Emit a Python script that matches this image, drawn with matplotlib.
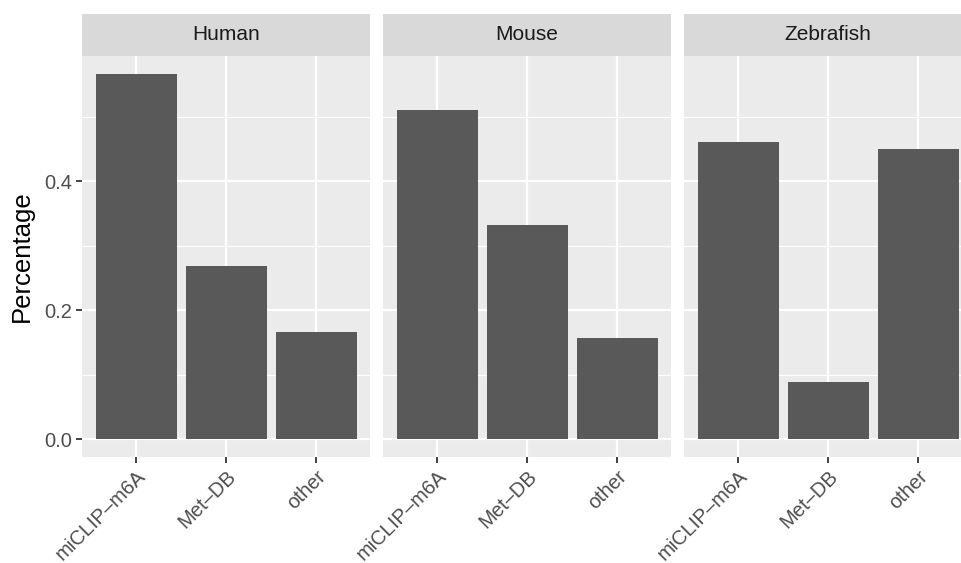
import matplotlib
matplotlib.use("Agg")
import matplotlib.pyplot as plt

plt.rcParams['font.family'] = ['Liberation Sans', 'DejaVu Sans']

# share of sites per source, one facet per species
species = ["Human", "Mouse", "Zebrafish"]
sources = ["miCLIP\u2013m6A", "Met\u2013DB", "other"]
human = [0.5666, 0.2678, 0.1656]
mouse = [0.5108, 0.3328, 0.1564]
zebrafish = [0.4613, 0.0882, 0.4505]
values = [human, mouse, zebrafish]

BAR = "#595959"
PANEL = "#EBEBEB"
STRIP = "#D9D9D9"

fig = plt.figure(figsize=(9.61, 5.63), dpi=100)

# facet geometry (figure fractions)
lefts = [82 / 961, 383 / 961, 684 / 961]
width = 288 / 961
bottom = (563 - 457.3) / 563
height = 401.6 / 563
strip_h = 41.7 / 563

ymax = max(max(v) for v in values)
pad = 0.05 * ymax
pos = list(range(len(sources)))

for i, (name, vals) in enumerate(zip(species, values)):
    ax = fig.add_axes([lefts[i], bottom, width, height])
    ax.set_facecolor(PANEL)
    ax.bar(pos, vals, width=0.9, color=BAR, zorder=3)
    ax.set_xlim(-0.6, len(sources) - 0.4)
    ax.set_ylim(-pad, ymax + pad)

    ax.set_yticks([0.0, 0.2, 0.4])
    ax.set_yticks([0.1, 0.3, 0.5], minor=True)
    ax.set_xticks(pos)
    ax.set_xticklabels(sources, rotation=45, ha='right', va='top',
                       rotation_mode='anchor')
    ax.grid(which='major', color='white', linewidth=1.6, zorder=1)
    ax.grid(which='minor', axis='y', color='white', linewidth=0.8, zorder=1)
    ax.tick_params(which='minor', length=0)
    ax.tick_params(which='major', length=4, width=1.3, color='#333333',
                   labelcolor='#4D4D4D', labelsize=14.5, pad=3)
    if i == 0:
        ax.set_yticklabels(["0.0", "0.2", "0.4"])
    else:
        ax.tick_params(axis='y', length=0, labelleft=False)
    for s in ax.spines.values():
        s.set_visible(False)

    # facet strip
    st = fig.add_axes([lefts[i], bottom + height, width, strip_h])
    st.set_facecolor(STRIP)
    st.set_xticks([])
    st.set_yticks([])
    for s in st.spines.values():
        s.set_visible(False)
    st.text(0.5, 0.5, name, ha='center', va='center', fontsize=15,
            color='#1A1A1A', transform=st.transAxes)

fig.text(22 / 961, (563 - 256.5) / 563, "Percentage", rotation=90,
         ha='center', va='center', fontsize=18.5, color='black')

fig.savefig("out.png", dpi=100)
